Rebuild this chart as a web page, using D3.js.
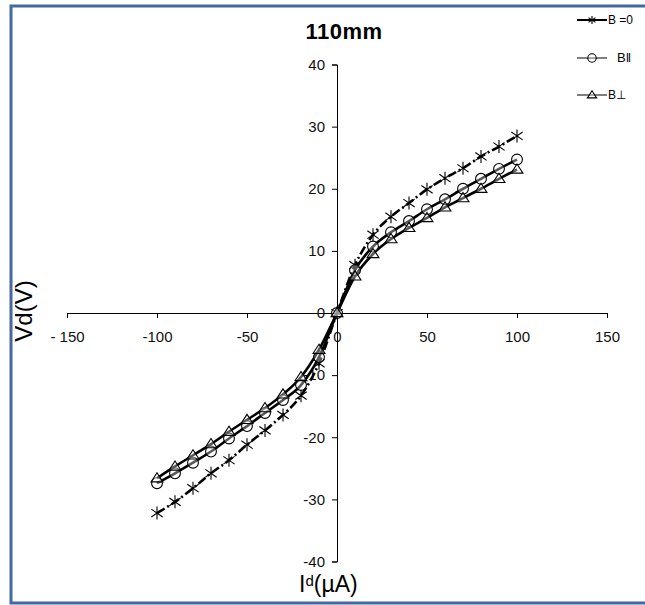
<!DOCTYPE html>
<html>
<head>
<meta charset="utf-8">
<script src="https://cdn.jsdelivr.net/npm/d3@7"></script>
<style>
  html, body { margin: 0; padding: 0; background: #fff; }
  svg { display: block; font-family: "Liberation Sans", Arial, sans-serif; }
</style>
</head>
<body>
<svg id="chart" width="645" height="605"></svg>
<script>
// ---- data ----
const currents = [-100, -90, -80, -70, -60, -50, -40, -30, -20, -10, 0, 10, 20, 30, 40, 50, 60, 70, 80, 90, 100];
const vB0 =    [-32.2, -30.4, -28.2, -25.8, -23.7, -21.2, -18.9, -16.4, -13.3, -8.1, 0, 7.7, 12.6, 15.5, 17.7, 19.9, 21.7, 23.3, 25.2, 26.8, 28.5];
const vBpar =  [-27.4, -25.8, -24.1, -22.3, -20.2, -18.2, -16.1, -14.0, -11.6, -7.1, 0, 6.9, 10.7, 13.0, 14.8, 16.7, 18.3, 20.0, 21.6, 23.2, 24.7];
const vBperp = [-26.6, -24.7, -22.9, -21.1, -19.1, -17.2, -15.3, -13.1, -10.3, -5.9, 0, 5.9, 9.5, 11.9, 13.7, 15.3, 17.0, 18.5, 20.0, 21.6, 23.1];
const xTicks = [-150, -100, -50, 0, 50, 100, 150];
const xTickLabels = ["- 150", "-100", "-50", "0", "50", "100", "150"];
const yTicks = [-40, -30, -20, -10, 0, 10, 20, 30, 40];
const yTickLabels = ["-40", "-30", "-20", "-10", "0", "10", "20", "30", "40"];
const seriesNames = ["B =0", "B\u2016", "B\u22A5"];
const titleText = "110mm";

const svg = d3.select("#chart");

// border
svg.append("rect")
  .attr("x", 11).attr("y", 6).attr("width", 650).attr("height", 597)
  .attr("fill", "#fff").attr("stroke", "#44699d").attr("stroke-width", 3);

const x = d3.scaleLinear().domain([-150, 150]).range([67, 607]);
const y = d3.scaleLinear().domain([-40, 40]).range([561.5, 64.5]);

// axes
const xAxis = svg.append("g")
  .attr("transform", `translate(0,${y(0)})`)
  .call(d3.axisBottom(x).tickValues(xTicks).tickSize(5).tickPadding(24)
    .tickFormat((d, i) => xTickLabels[i]));
const yAxis = svg.append("g")
  .attr("transform", `translate(${x(0)},0)`)
  .call(d3.axisLeft(y).tickValues(yTicks).tickSize(5).tickPadding(7)
    .tickFormat((d, i) => yTickLabels[i]));
[xAxis, yAxis].forEach(g => {
  g.select(".domain").attr("stroke", "#000").attr("stroke-width", 1);
  g.selectAll(".tick line").attr("stroke", "#000");
  g.selectAll("text").attr("font-size", 15).attr("fill", "#111")
    .attr("font-family", "Liberation Sans, Arial, sans-serif");
});
xAxis.selectAll(".tick text").attr("dy", "0");

// series
const series = [
  { name: seriesNames[0], vals: vB0, dash: "9,3,2,3", marker: "star" },
  { name: seriesNames[1], vals: vBpar, dash: null, marker: "circle" },
  { name: seriesNames[2], vals: vBperp, dash: null, marker: "tri" }
];

const line = d3.line().x(d => x(d[0])).y(d => y(d[1])).curve(d3.curveMonotoneX);

function drawMarker(g, type, cx, cy, s) {
  if (type === "star") {
    const r = s;
    const p = d3.path();
    p.moveTo(cx - r * 0.87, cy - r * 0.6); p.lineTo(cx + r * 0.87, cy + r * 0.6);
    p.moveTo(cx - r * 0.87, cy + r * 0.6); p.lineTo(cx + r * 0.87, cy - r * 0.6);
    p.moveTo(cx, cy - r); p.lineTo(cx, cy + r);
    g.append("path").attr("d", p.toString()).attr("stroke", "#000").attr("stroke-width", 1.1).attr("fill", "none");
  } else if (type === "circle") {
    g.append("circle").attr("cx", cx).attr("cy", cy).attr("r", s)
      .attr("fill", "#fff").attr("fill-opacity", 0.35).attr("stroke", "#000").attr("stroke-width", 1.1);
  } else {
    const h = s * 1.7, w = s * 1.1;
    g.append("path").attr("d", `M${cx},${cy - h * 0.6}L${cx + w},${cy + h * 0.4}L${cx - w},${cy + h * 0.4}Z`)
      .attr("fill", "#fff").attr("fill-opacity", 0.35).attr("stroke", "#000").attr("stroke-width", 1.1);
  }
}

series.forEach(s => {
  const pts = currents.map((c, i) => [c, s.vals[i]]);
  const path = svg.append("path").datum(pts)
    .attr("d", line).attr("fill", "none").attr("stroke", "#000").attr("stroke-width", 2.6);
  if (s.dash) path.attr("stroke-dasharray", s.dash);
});
series.forEach(s => {
  const g = svg.append("g");
  currents.forEach((c, i) => drawMarker(g, s.marker, x(c), y(s.vals[i]), s.marker === "star" ? 6.5 : 5.4));
});

// title
svg.append("text").attr("x", 344).attr("y", 39).attr("text-anchor", "middle")
  .attr("font-size", 22).attr("font-weight", "bold").attr("letter-spacing", 0.5).text(titleText);

// legend
const legY = [20, 58, 95];
series.forEach((s, i) => {
  const g = svg.append("g");
  g.append("line").attr("x1", 577).attr("x2", 607).attr("y1", legY[i]).attr("y2", legY[i])
    .attr("stroke", "#000").attr("stroke-width", i === 0 ? 2 : 1);
  drawMarker(g, s.marker, 592, legY[i], i === 0 ? 4 : 4.2);
  g.append("text").attr("x", i === 1 ? 617 : 608).attr("y", legY[i] + 4)
    .attr("font-size", i === 1 ? 13 : 12).text(s.name);
});

// axis titles
const yl = svg.append("text")
  .attr("transform", `translate(32,311) rotate(-90)`)
  .attr("text-anchor", "middle").attr("font-size", 24);
yl.append("tspan").text("V");
yl.append("tspan").text("d");
yl.append("tspan").text("(V)");

const xl = svg.append("text").attr("x", 299).attr("y", 592).attr("font-size", 23);
xl.append("tspan").text("I");
xl.append("tspan").attr("font-size", 15).attr("dy", -6).text("d");
xl.append("tspan").attr("dy", 6).text("(\u00B5A)");
</script>
</body>
</html>
